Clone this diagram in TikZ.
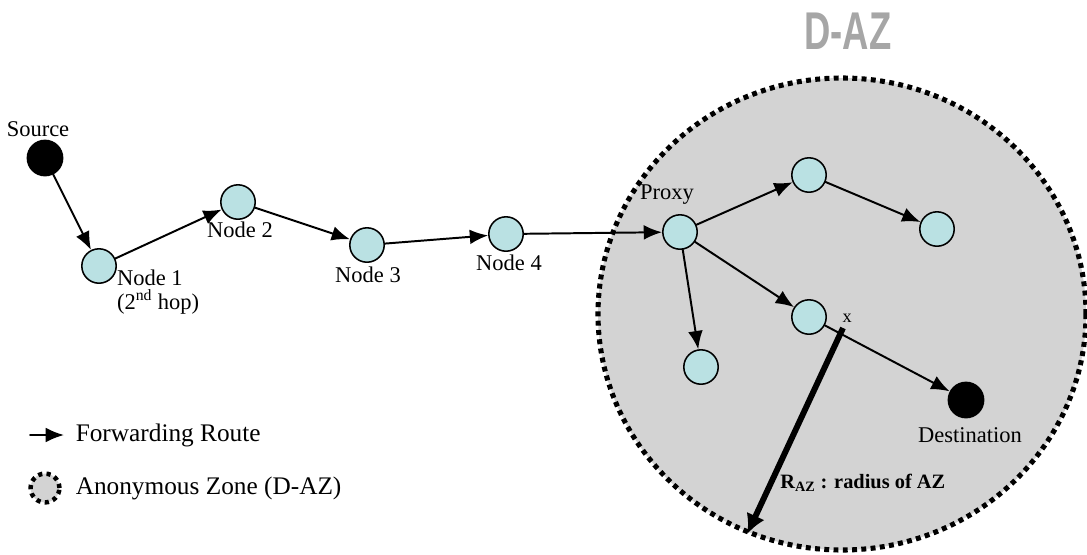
\documentclass[tikz,border=0pt]{standalone}
\usepackage{fontspec}
\setmainfont{Liberation Serif}
\newfontfamily\titlefont{Liberation Sans}
\usetikzlibrary{arrows, arrows.meta, calc}
\definecolor{relayfill}{RGB}{186,225,227}
\definecolor{zonefill}{RGB}{211,211,211}

\begin{document}
\begin{tikzpicture}[>={Latex[length=13pt,width=10.5pt]}, line cap=round, line join=round,
	font=\fontsize{16}{18}\selectfont,
	relay/.style={circle, draw, line width=1.1pt, fill=relayfill, minimum size=0.86cm, inner sep=0pt},
	endpt/.style={circle, fill=black, minimum size=0.92cm, inner sep=0pt},
	hop/.style={->, line width=1.4pt},
	zone/.style={line width=3.6pt, line cap=butt, dash pattern=on 3.5pt off 3.1pt, fill=zonefill}]
	
	\useasboundingbox (0,0) rectangle (27.175,-13.85);
	
	%========================
	% Anonymous zone
	%========================
	\draw[zone] (21.05,-7.85) ellipse (6.1 and 5.9);
	\node[font=\titlefont\fontsize{36}{38}\selectfont\bfseries, text=gray!70, xscale=0.72, yscale=1.05] (title) at (21.2,-0.78) {D-AZ};
	
	%========================
	% Route up to the proxy
	%========================
	\node[endpt] (src) at (1.125,-3.95) {};
	\node (srclab) at (0.95,-3.225) {Source};
	\node[relay] (n1) at (2.475,-6.65) {};
	\node[relay] (n2) at (5.95,-5.05) {};
	\node[relay] (n3) at (9.175,-6.125) {};
	\node[relay] (n4) at (12.65,-5.85) {};
	\node[align=left, anchor=north west, inner sep=0pt] (n1lab) at (2.92,-6.75) {Node 1\\[-1pt] (2\textsuperscript{nd} hop)};
	\node (n2lab) at (6.0,-5.75) {Node 2};
	\node (n3lab) at (9.2,-6.875) {Node 3};
	\node (n4lab) at (12.725,-6.575) {Node 4};
	
	\draw[hop] (src) -- (n1);
	\draw[hop] (n1) -- (n2);
	\draw[hop] (n2) -- (n3);
	\draw[hop] (n3) -- (n4);
	
	%========================
	% Inside the zone
	%========================
	\node[relay] (proxy) at (17.0,-5.8) {};
	\node (proxylab) at (16.675,-4.875) {Proxy};
	\node[relay] (za) at (20.225,-4.375) {};
	\node[relay] (zb) at (23.425,-5.725) {};
	\node[relay] (zc) at (20.225,-7.925) {};
	\node[relay] (zd) at (17.525,-9.175) {};
	\node[endpt] (dst) at (24.15,-10.0) {};
	\node (dstlab) at (24.25,-10.875) {Destination};
	
	\draw[hop] (n4) -- (proxy);
	\draw[hop] (proxy) -- (za);
	\draw[hop] (za) -- (zb);
	\draw[hop] (proxy) -- (zc);
	\draw[hop] (proxy) -- (zd);
	\draw[hop] (zc) -- (dst);
	
	% radius of the zone
	\node[font=\fontsize{13}{14}\selectfont] (xlab) at (21.18,-7.95) {x};
	\coordinate (rtop) at (21.075,-8.2);
	\coordinate (rend) at (18.68,-13.35);
	\draw[->, line width=4.2pt, line cap=butt, >={Latex[length=14pt,width=14pt]}] (rtop) -- (rend);
	\node[anchor=base west, inner sep=0pt, font=\fontsize{14.5}{16}\selectfont\bfseries] (rlab) at (19.5,-12.2) {R\textsubscript{AZ} : radius of AZ};
	
	%========================
	% Legend
	%========================
	\coordinate (legA) at (0.75,-10.875);
	\coordinate (legB) at (1.6,-10.875);
	\draw[hop] (legA) -- (legB);
	\node[anchor=west, font=\fontsize{18}{20}\selectfont] (leg1) at (1.77,-10.875) {Forwarding Route};
	\draw[zone, line width=3.2pt, dash pattern=on 3pt off 3pt] (1.125,-12.2) circle (0.36);
	\node[anchor=west, font=\fontsize{18}{20}\selectfont] (leg2) at (1.77,-12.2) {Anonymous Zone (D-AZ)};
	
\end{tikzpicture}
\end{document}
